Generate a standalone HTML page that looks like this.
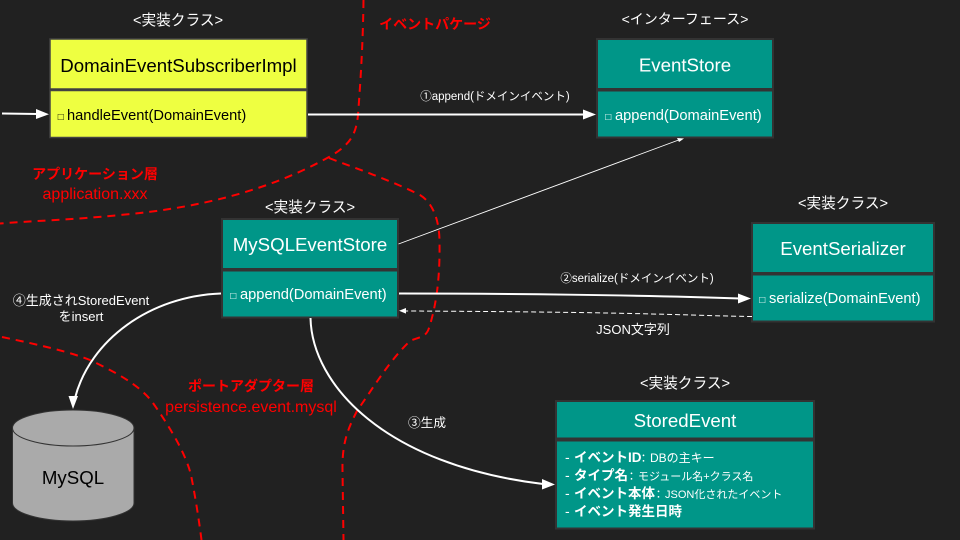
<!DOCTYPE html>
<html lang="ja">
<head>
<meta charset="utf-8">
<style>
html,body{margin:0;padding:0;background:#212121;width:960px;height:540px;overflow:hidden}
svg{display:block}
text{font-family:"Liberation Sans","Noto Sans CJK JP",sans-serif;fill:#fff}
.red{fill:#f00}
.m{text-anchor:middle}
.box{stroke:#333;stroke-width:2}
.t{fill:#009688}
.y{fill:#eeff41;stroke:#434343;stroke-width:1.500}
.dash{fill:none;stroke:#f00;stroke-width:2;stroke-dasharray:8 6}
.w{fill:none;stroke:#fff;stroke-width:2}
.n{font-size:18.67px}
.k{font-size:14.67px}
.b{font-weight:bold;font-size:13.5px}
</style>
</head>
<body>
<svg width="960" height="540" viewBox="0 0 960 540" xmlns="http://www.w3.org/2000/svg">
<rect width="960" height="540" fill="#212121"/>

<!-- red dashed boundaries -->
<path class="dash" d="M363.500 0 C363 40 361 75 358 115 C356 135 350 145 329 157 C270 190 200 208 120 215 C70 220 30 221 0 223.500"/>
<path class="dash" d="M329 158 C360 170 390 180 420 195 C433 203 439 220 439.500 240 C440 270 438 300 429 328 C426 338 418 337 410 341 C390 360 375 385 357 411 C347 430 342 445 342.500 470 L343.500 540"/>
<path class="dash" d="M2 337 C40 345 70 352 90 360 C115 372 140 385 153 403 C172 430 186 455 191 475 C195 495 199 520 201.500 540"/>

<!-- boxes -->
<rect class="box y" x="50" y="39" width="257" height="50"/>
<rect class="box y" x="50" y="90.500" width="257" height="47"/>
<rect class="box t" x="597" y="39" width="176" height="50"/>
<rect class="box t" x="597" y="90.500" width="176" height="47"/>
<rect class="box t" x="222" y="219" width="176" height="50"/>
<rect class="box t" x="222" y="270.500" width="176" height="47"/>
<rect class="box t" x="752" y="223" width="182" height="50"/>
<rect class="box t" x="752" y="274.500" width="182" height="47"/>
<rect class="box t" x="556" y="401" width="258" height="37.500"/>
<rect class="box t" x="556" y="440.500" width="258" height="88"/>

<!-- cylinder -->
<path d="M12.500 428 C12.500 418 40 410 73 410 C106 410 134 418 134 428 L134 503 C134 513 106 521 73 521 C40 521 12.500 513 12.500 503 Z" fill="#aaa" stroke="#333" stroke-width="1"/>
<path d="M12.500 428 C12.500 438 40 446 73 446 C106 446 134 438 134 428" fill="none" stroke="#333" stroke-width="1"/>
<text x="73" y="484" class="m n" style="fill:#000">MySQL</text>

<!-- connectors -->
<path class="w" d="M2 113.500 L38 114"/>
<path d="M36 109 L49 114.200 L36 119 Z" fill="#fff"/>
<path class="w" d="M308 114.500 L586 114.500"/>
<path d="M583 109.500 L596 114.500 L583 119.500 Z" fill="#fff"/>
<path d="M398.500 244 L680 139.500" fill="none" stroke="#fff" stroke-width="0.9"/>
<path d="M677 138 L684 138.500 L679 142 Z" fill="#fff"/>
<path class="w" d="M399 293.500 C500 293.500 640 295 740 298.500"/>
<path d="M738 293.500 L751 298.500 L738 303.500 Z" fill="#fff"/>
<path d="M752 316.500 C700 316 650 312 405 311" fill="none" stroke="#fff" stroke-width="1" stroke-dasharray="5 3"/>
<path d="M399 310.800 L406 308 L406 313.600 Z" fill="#fff"/>
<path class="w" d="M221 293.500 C150 296 90 340 75 398"/>
<path d="M68.500 396 L73 409 L78 396 Z" fill="#fff"/>
<path class="w" d="M310.500 318 C312 385 385 465 543 484"/>
<path d="M542 479 L555 484.500 L542 489.500 Z" fill="#fff"/>

<!-- stereotype labels -->
<text x="178" y="25" class="m k">&lt;実装クラス&gt;</text>
<text x="685" y="24" class="m" font-size="14">&lt;インターフェース&gt;</text>
<text x="310" y="212" class="m k">&lt;実装クラス&gt;</text>
<text x="843" y="208" class="m k">&lt;実装クラス&gt;</text>
<text x="685" y="388" class="m k">&lt;実装クラス&gt;</text>

<!-- class names -->
<text x="178.500" y="72" class="m n" style="fill:#000">DomainEventSubscriberImpl</text>
<text x="685" y="71.500" class="m n">EventStore</text>
<text x="310" y="251" class="m n">MySQLEventStore</text>
<text x="843" y="255" class="m n">EventSerializer</text>
<text x="685" y="427" class="m n">StoredEvent</text>

<!-- methods -->
<text y="120" class="k" style="fill:#000"><tspan x="57.800" font-size="10">□</tspan><tspan x="67">handleEvent(DomainEvent)</tspan></text>
<text y="120" class="k"><tspan x="605.300" font-size="10">□</tspan><tspan x="615">append(DomainEvent)</tspan></text>
<text y="299" class="k"><tspan x="230.300" font-size="10">□</tspan><tspan x="240">append(DomainEvent)</tspan></text>
<text y="303" class="k"><tspan x="759.300" font-size="10">□</tspan><tspan x="769">serialize(DomainEvent)</tspan></text>

<!-- stored event fields -->
<text y="462" font-size="14"><tspan x="565">-</tspan><tspan x="574" class="b">イベントID</tspan><tspan x="638" font-size="11">：</tspan><tspan x="650" font-size="12">DBの主キー</tspan></text>
<text y="480" font-size="14"><tspan x="565">-</tspan><tspan x="574" class="b">タイプ名</tspan><tspan x="626" font-size="11">：</tspan><tspan x="638" font-size="11">モジュール名+クラス名</tspan></text>
<text y="498" font-size="14"><tspan x="565">-</tspan><tspan x="574" class="b">イベント本体</tspan><tspan x="653" font-size="11">：</tspan><tspan x="665" font-size="11">JSON化されたイベント</tspan></text>
<text y="516" font-size="14"><tspan x="565">-</tspan><tspan x="574" class="b">イベント発生日時</tspan></text>

<!-- connector labels -->
<text x="495" y="100" class="m" font-size="11.500">①append(ドメインイベント)</text>
<text x="637" y="282" class="m" font-size="11.500">②serialize(ドメインイベント)</text>
<text x="633" y="334" class="m" font-size="13">JSON文字列</text>
<text x="81" y="305" class="m" font-size="13">④生成されStoredEvent</text>
<text x="81" y="321" class="m" font-size="13">をinsert</text>
<text x="427" y="427" class="m" font-size="12.700">③生成</text>

<!-- red labels -->
<text x="435" y="29" class="m red" font-size="14" font-weight="bold">イベントパケージ</text>
<text x="95" y="179" class="m red" font-size="14" font-weight="bold">アプリケーション層</text>
<text x="95" y="199" class="m red" font-size="16">application.xxx</text>
<text x="251" y="391" class="m red" font-size="14" font-weight="bold">ポートアダプター層</text>
<text x="251" y="412" class="m red" font-size="16">persistence.event.mysql</text>
</svg>
</body>
</html>
